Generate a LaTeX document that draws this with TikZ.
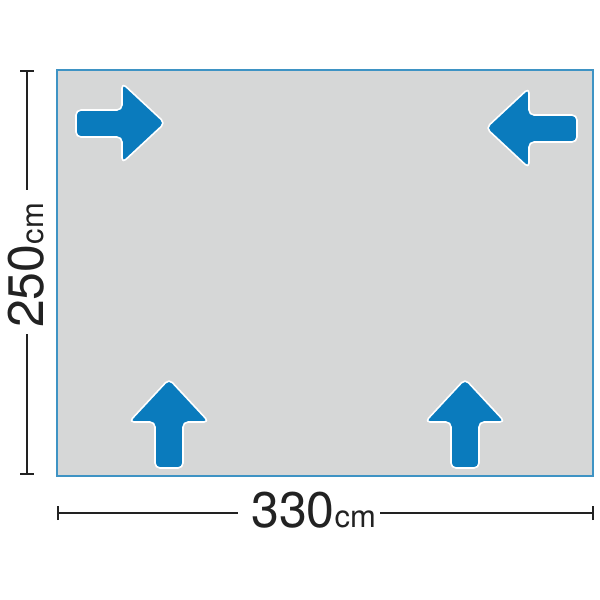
\documentclass[tikz,border=0pt]{standalone}
\usepackage{fontspec}
\setmainfont{TeX Gyre Heros}
\definecolor{floorgray}{HTML}{D6D7D7}
\definecolor{edgeblue}{HTML}{3E93C4}
\definecolor{arrblue}{HTML}{0A7BBD}
\definecolor{dimblack}{HTML}{222222}
\tikzset{
  floor/.style={fill=floorgray, draw=edgeblue, line width=1.8pt},
  arr/.style={fill=arrblue, draw=white, line width=1.6pt, rounded corners=5pt, line join=round},
  dimline/.style={draw=dimblack, line width=1.6pt},
  dimtext/.style={inner sep=0pt, text=dimblack, font=\fontsize{50}{50}\selectfont}
}
\begin{document}
\begin{tikzpicture}[x=1pt,y=-1pt]
\useasboundingbox (0,0) rectangle (600,600);
% floor
\path[floor] (57,70) rectangle (593,476);
% arrows
\draw[arr] (76,110) -- (122,110) -- (122,83) -- (165,123) -- (122,163) -- (122,137) -- (76,137) -- cycle;
\draw[arr] (577,115) -- (529,115) -- (529,88) -- (486,128) -- (529,168) -- (529,142) -- (577,142) -- cycle;
\draw[arr] (155,468) -- (155,422) -- (129,422) -- (169,379) -- (209,422) -- (183,422) -- (183,468) -- cycle;
\draw[arr] (451,468) -- (451,422) -- (425,422) -- (465,379) -- (505,422) -- (479,422) -- (479,468) -- cycle;
% left dimension
\coordinate (lt) at (27,71);
\coordinate (lb) at (27,474);
\node[dimtext, rotate=90, anchor=base west] (ltext) at (43,328) {250{\fontsize{31}{31}\selectfont cm}};
\coordinate (lg1) at (27,190);
\coordinate (lg2) at (27,334);
\draw[dimline] (lt) -- (lg1);
\draw[dimline] (lg2) -- (lb);
\draw[dimline] ([xshift=-7pt]lt) -- ([xshift=7pt]lt);
\draw[dimline] ([xshift=-7pt]lb) -- ([xshift=7pt]lb);
% bottom dimension
\coordinate (bl) at (58,513);
\coordinate (br) at (593,513);
\node[dimtext, anchor=base west] (btext) at (251,527) {330{\fontsize{31}{31}\selectfont cm}};
\coordinate (bg1) at (238,513);
\coordinate (bg2) at (380,513);
\draw[dimline] (bl) -- (bg1);
\draw[dimline] (bg2) -- (br);
\draw[dimline] ([yshift=-7pt]bl) -- ([yshift=7pt]bl);
\draw[dimline] ([yshift=-7pt]br) -- ([yshift=7pt]br);
\end{tikzpicture}
\end{document}
